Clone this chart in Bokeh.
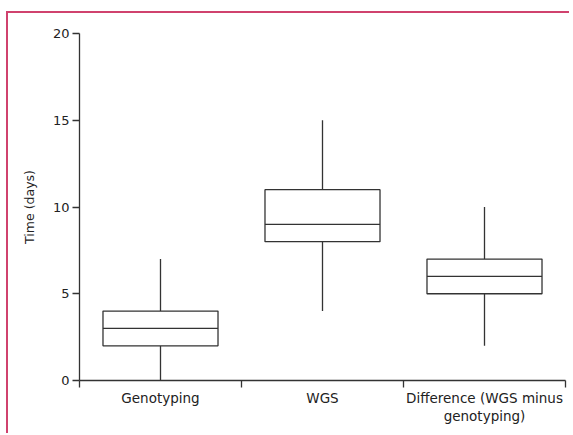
from bokeh.plotting import figure
from bokeh.models import FixedTicker, Range1d
from bokeh.embed import file_html
from bokeh.resources import INLINE

categories = ["Genotyping", "WGS", "Difference (WGS minus\ngenotyping)"]
whisker_low = [0, 4, 2]
q1 = [2, 8, 5]
median = [3, 9, 6]
q3 = [4, 11, 7]
whisker_high = [7, 15, 10]
y_ticks = [0, 5, 10, 15, 20]

FONT = "DejaVu Sans"
AX = "#333333"

p = figure(width=563, height=422, output_backend="svg", toolbar_location=None,
           x_range=Range1d(0, len(categories)), y_range=Range1d(0, 20),
           min_border_left=71, min_border_right=6, min_border_top=20, min_border_bottom=55)
p.styles = {"border-top": "2px solid #d0426e", "border-left": "2px solid #d0426e",
            "margin-top": "11px", "margin-left": "6px"}
p.outline_line_color = None
p.grid.visible = False
p.background_fill_color = "white"

centers = [i + 0.5 for i in range(len(categories))]
half = 0.355
left = [c - half for c in centers]
right = [c + half for c in centers]

p.segment(centers, whisker_low, centers, q1, line_color=AX, line_width=1.3)
p.segment(centers, q3, centers, whisker_high, line_color=AX, line_width=1.3)
p.quad(left=left, right=right, bottom=q1, top=q3, fill_color="white",
       line_color=AX, line_width=1.3)
p.segment(left, median, right, median, line_color=AX, line_width=1.3)

# x axis
xa = p.xaxis[0]
xa.ticker = FixedTicker(ticks=centers, minor_ticks=list(range(len(categories) + 1)))
xa.major_label_overrides = {c: lab for c, lab in zip(centers, categories)}
xa.major_tick_out = 0
xa.major_tick_in = 0
xa.minor_tick_out = 7
xa.minor_tick_in = 0
xa.minor_tick_line_color = AX
xa.minor_tick_line_width = 1.3
xa.axis_line_color = AX
xa.axis_line_width = 1.3
xa.major_label_standoff = 2
xa.major_label_text_font = FONT
xa.major_label_text_font_size = "13.5px"
xa.major_label_text_line_height = 1.17
xa.major_label_text_color = "#222222"

# y axis
ya = p.yaxis[0]
ya.ticker = FixedTicker(ticks=y_ticks, minor_ticks=[])
ya.major_tick_out = 7
ya.major_tick_in = 0
ya.major_tick_line_color = AX
ya.major_tick_line_width = 1.3
ya.axis_line_color = AX
ya.axis_line_width = 1.3
ya.major_label_standoff = 3
ya.major_label_text_font = FONT
ya.major_label_text_font_size = "13px"
ya.major_label_text_color = "#222222"
ya.axis_label = "Time (days)"
ya.axis_label_text_font = FONT
ya.axis_label_text_font_size = "12.5px"
ya.axis_label_text_font_style = "normal"
ya.axis_label_text_color = "#222222"
ya.axis_label_standoff = 13

open("out.html", "w").write(file_html(p, INLINE))
